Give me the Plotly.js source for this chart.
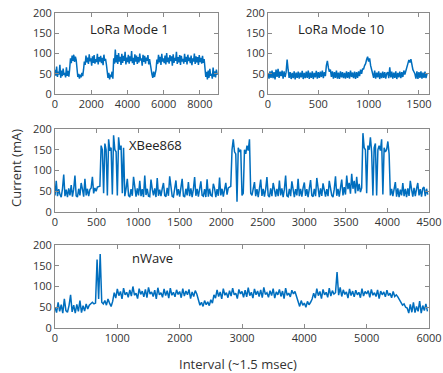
<!DOCTYPE html>
<html>
<head>
<meta charset="utf-8">
<script src="https://cdn.plot.ly/plotly-3.0.1.min.js"></script>
<style>html,body{margin:0;padding:0;background:#fff;}#chart{width:443px;height:373px;}</style>
</head>
<body>
<div id="chart"></div>
<script>
// Current (mA) samples, one array per panel
const loraMode1 = [
60,45,68,42,55,48,72,40,58,44,63,47,52,41,66,45,57,43,62,
88,76,95,82,97,79,92,84,
55,42,50,38,48,41,52,44,60,
80,72,95,78,90,74,98,81,88,70,93,77,96,75,86,79,99,73,91,80,94,76,89,71,97,82,87,74,
60,40,52,36,48,42,55,38,
88,75,110,78,96,74,101,80,92,72,99,77,94,82,104,73,90,79,97,75,93,81,106,76,89,72,98,80,95,74,91,78,100,83,88,70,97,79,94,75,90,82,96,73,86,
70,58,48,40,55,42,50,60,
85,74,97,78,92,72,99,80,88,76,95,73,101,79,90,75,96,81,93,70,98,77,89,82,104,74,91,78,96,72,94,80,87,75,99,79,92,73,97,81,90,76,95,71,88,80,100,74,93,78,91,72,96,79,89,75,94,77,86,
60,42,55,36,58,40,62,45,50,38,65,43,56,41,60,47
];
const loraMode10 = [
52,38,56,40,58,39,54,36,60,42,62,40,55,44,58,38,56,42,54,
85,60,
40,54,37,52,39,56,36,53,40,55,38,53,41,57,37,52,39,55,40,58,37,53,40,56,37,52,41,57,38,54,40,55,42,58,39,54,44,
70,82,65,55,60,
42,56,38,54,40,58,38,53,37,56,41,54,39,52,38,56,40,54,38,58,42,53,39,55,37,54,40,56,44,60,50,62,
62,70,75,85,92,80,88,70,58,
48,40,58,38,53,41,56,37,52,39,55,40,54,38,51,54,39,
66,
41,55,38,53,40,56,37,52,41,55,39,54,42,58,48,60,
65,75,84,78,86,72,60,55,
50,38,56,37,54,40,56,38,53,40,55,39,50
];
const xbee868 = [
40,75,38,55,42,36,56,90,38,54,36,57,40,65,37,55,88,39,36,56,40,70,55,37,80,40,56,38,54,58,85,45,58,50,60,62,
62,160,150,45,165,150,40,175,148,155,42,185,150,145,40,180,150,160,45,155,
38,56,80,40,36,55,39,85,54,37,57,40,75,38,55,36,88,41,56,38,37,78,55,40,57,36,82,39,54,38,56,70,40,37,58,39,86,55,38,36,57,76,40,55,37,58,80,39,36,56,40,72,38,57,36,55,84,39,56,37,58,74,40,38,55,36,79,37,56,40,38,68,57,36,55,39,83,40,56,37,54,70,42,58,60,62,
150,175,145,140,25,155,145,150,40,45,150,140,160,148,175,45,
40,56,72,38,55,36,57,78,39,56,37,55,84,40,36,57,38,70,55,37,56,38,76,40,57,36,55,88,39,37,56,38,74,57,36,55,40,80,38,56,37,58,71,39,55,36,57,77,40,37,56,38,82,55,36,57,39,69,56,37,55,38,75,57,40,36,55,86,39,56,37,58,78,40,60,42,88,55,70,44,92,56,75,45,85,50,68,48,58,
190,155,150,45,160,150,180,145,40,155,165,40,150,160,148,175,42,155,145,150,170,140,
40,56,38,55,72,37,57,36,54,40,70,38,56,36,57,39,75,55,37,58,38,56,70,40,55,37,57,60,38,56,42
];
const nWave = [
50,37,62,40,56,36,70,42,38,54,80,39,55,36,57,40,66,37,54,41,58,46,55,60,
62,58,60,
165,70,178,62,
58,66,55,70,60,52,64,
85,72,94,78,88,70,96,80,86,74,92,77,100,79,84,71,95,81,89,75,93,73,98,82,87,76,91,70,97,80,85,74,94,78,90,72,96,79,86,75,92,81,88,73,95,77,89,80,93,71,87,76,90,82,
65,55,62,52,66,56,63,54,68,60,
80,72,92,76,87,70,95,79,85,73,90,77,96,80,84,71,93,82,88,74,91,75,97,78,86,72,94,80,89,76,92,73,98,81,85,74,90,78,95,72,87,80,93,76,89,71,96,79,84,75,91,82,88,74,
62,52,66,55,60,50,64,56,62,70,
84,72,95,78,88,71,93,80,86,74,96,77,90,82,85,135,79,98,76,92,81,87,72,94,78,89,75,91,80,86,73,95,77,88,82,90,74,93,79,85,76,92,71,89,80,87,75,91,78,84,73,88,76,80,
75,68,62,55,58,50,
48,36,57,38,62,37,52,40,65,36,54,42,58,40
];
const panelLabels = ["LoRa Mode 1", "LoRa Mode 10", "XBee868", "nWave"];
const sampleStep = [45, 10, 15, 25];
const xRanges = [[0, 9000], [0, 1600], [0, 4500], [0, 6000]];
const xTickStep = [2000, 500, 500, 1000];
const yTicks = [0, 50, 100, 150, 200];

const series = [loraMode1, loraMode10, xbee868, nWave];
const lineColor = 'rgb(0,110,190)';
const traces = series.map((ys, i) => ({
  type: 'scatter', mode: 'lines',
  x0: 0, dx: sampleStep[i], y: ys,
  xaxis: i === 0 ? 'x' : 'x' + (i + 1),
  yaxis: i === 0 ? 'y' : 'y' + (i + 1),
  line: {color: lineColor, width: 1.5},
  hoverinfo: 'skip'
}));

const W = 443, H = 373;
const boxes = [ // [left, right, top, bottom] in px
  [55, 218, 13, 94],
  [268, 429, 13, 94],
  [55, 429, 129, 212],
  [55, 429, 245, 328]
];
const axCommon = {
  showline: true, linecolor: '#8a8a8a', linewidth: 1, mirror: 'ticks',
  ticks: 'inside', ticklen: 4, tickcolor: '#8a8a8a',
  showgrid: false, zeroline: false, ticklabeloverflow: 'allow',
  tickfont: {family: 'Open Sans, sans-serif', size: 11, color: '#333'}
};
const layout = {
  width: W, height: H,
  margin: {l: 0, r: 0, t: 0, b: 0},
  paper_bgcolor: '#fff', plot_bgcolor: '#fff',
  showlegend: false,
  font: {family: 'Open Sans, sans-serif', color: '#333'},
  annotations: []
};
boxes.forEach((b, i) => {
  const sx = i === 0 ? '' : String(i + 1);
  layout['xaxis' + sx] = Object.assign({}, axCommon, {
    domain: [b[0] / W, b[1] / W], anchor: 'y' + sx,
    range: xRanges[i], dtick: xTickStep[i], tick0: 0
  });
  layout['yaxis' + sx] = Object.assign({}, axCommon, {
    domain: [1 - b[3] / H, 1 - b[2] / H], anchor: 'x' + sx,
    range: [0, 200], tickvals: yTicks
  });
});
const labelPos = [[129, 29], [341, 29], [155, 145], [152, 258]];
panelLabels.forEach((t, i) => {
  layout.annotations.push({
    text: t, xref: 'paper', yref: 'paper',
    x: labelPos[i][0] / W, y: 1 - labelPos[i][1] / H,
    xanchor: 'center', yanchor: 'middle', showarrow: false,
    font: {size: 13, color: '#222'}
  });
});
layout.annotations.push({
  text: 'Current (mA)', xref: 'paper', yref: 'paper',
  x: 16 / W, y: 1 - 168 / H, textangle: -90,
  xanchor: 'center', yanchor: 'middle', showarrow: false,
  font: {size: 13, color: '#333'}
});
layout.annotations.push({
  text: 'Interval (~1.5 msec)', xref: 'paper', yref: 'paper',
  x: 238 / W, y: 1 - 364 / H,
  xanchor: 'center', yanchor: 'middle', showarrow: false,
  font: {size: 13, color: '#333'}
});
Plotly.newPlot('chart', traces, layout, {staticPlot: true, displayModeBar: false});
</script>
</body>
</html>
